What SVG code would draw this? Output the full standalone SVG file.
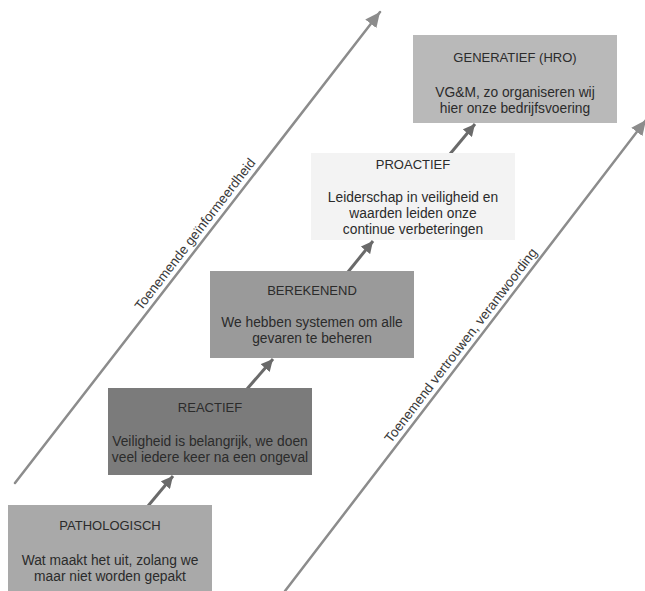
<svg xmlns="http://www.w3.org/2000/svg" width="645" height="591" viewBox="0 0 645 591">
<defs>
<style>
.t{font-family:"Liberation Sans",Arial,sans-serif;fill:#2b2b2b;text-anchor:middle}
.ti{font-size:13px}
.bd{font-size:13.8px}
.ax{font-family:"Liberation Sans",Arial,sans-serif;fill:#3a3a3a;font-size:13.5px;text-anchor:middle}
.big{stroke:#8c8c8c;stroke-width:2.5;fill:none;stroke-linecap:round}
.sm{stroke:#6a6a6a;stroke-width:3;fill:none}
</style>
<marker id="ahBig" markerUnits="userSpaceOnUse" markerWidth="16" markerHeight="14" refX="15" refY="7" orient="auto">
<path d="M0,0 L15,7 L0,14 z" fill="#8c8c8c"/>
</marker>
<marker id="ahSm" markerUnits="userSpaceOnUse" markerWidth="13" markerHeight="12" refX="12" refY="6" orient="auto">
<path d="M0,0 L12,6 L0,12 z" fill="#6a6a6a"/>
</marker>
</defs>
<rect width="645" height="591" fill="#ffffff"/>
<g id="connectors">
<line class="big" x1="15" y1="483" x2="380" y2="12" marker-end="url(#ahBig)"/>
<line class="big" x1="285" y1="591" x2="646" y2="120" marker-end="url(#ahBig)"/>
<line class="sm" x1="148" y1="506" x2="173" y2="476" marker-end="url(#ahSm)"/>
<line class="sm" x1="247" y1="389" x2="273" y2="359" marker-end="url(#ahSm)"/>
<line class="sm" x1="348" y1="272" x2="373" y2="241" marker-end="url(#ahSm)"/>
<line class="sm" x1="450" y1="154" x2="475" y2="124" marker-end="url(#ahSm)"/>
<text class="ax" transform="translate(198.6,237.1) rotate(-52.3)">Toenemende geïnformeerdheid</text>
<text class="ax" transform="translate(464.4,348.1) rotate(-52.5)">Toenemend vertrouwen, verantwoording</text>
</g>
<g id="pathologisch">
<rect x="8" y="505" width="204" height="86" fill="#a9a9a9"/>
<text class="t ti" x="110" y="530">PATHOLOGISCH</text>
<text class="t bd" x="110" y="565">Wat maakt het uit, zolang we</text>
<text class="t bd" x="110" y="581">maar niet worden gepakt</text>
</g>
<g id="reactief">
<rect x="108" y="388" width="204" height="87" fill="#7b7b7b"/>
<text class="t ti" x="210" y="412">REACTIEF</text>
<text class="t bd" x="210" y="446">Veiligheid is belangrijk, we doen</text>
<text class="t bd" x="210" y="462">veel iedere keer na een ongeval</text>
</g>
<g id="berekenend">
<rect x="210" y="271" width="204" height="87" fill="#9a9a9a"/>
<text class="t ti" x="312" y="295">BEREKENEND</text>
<text class="t bd" x="312" y="327">We hebben systemen om alle</text>
<text class="t bd" x="312" y="343">gevaren te beheren</text>
</g>
<g id="proactief">
<rect x="311" y="153" width="204" height="87" fill="#f3f3f3"/>
<text class="t ti" x="413" y="169">PROACTIEF</text>
<text class="t bd" x="413" y="202">Leiderschap in veiligheid en</text>
<text class="t bd" x="413" y="218">waarden leiden onze</text>
<text class="t bd" x="413" y="234">continue verbeteringen</text>
</g>
<g id="generatief">
<rect x="413" y="35" width="204" height="88" fill="#b9b9b9"/>
<text class="t ti" x="515" y="62">GENERATIEF (HRO)</text>
<text class="t bd" x="515" y="97">VG&amp;M, zo organiseren wij</text>
<text class="t bd" x="515" y="113">hier onze bedrijfsvoering</text>
</g>
</svg>
